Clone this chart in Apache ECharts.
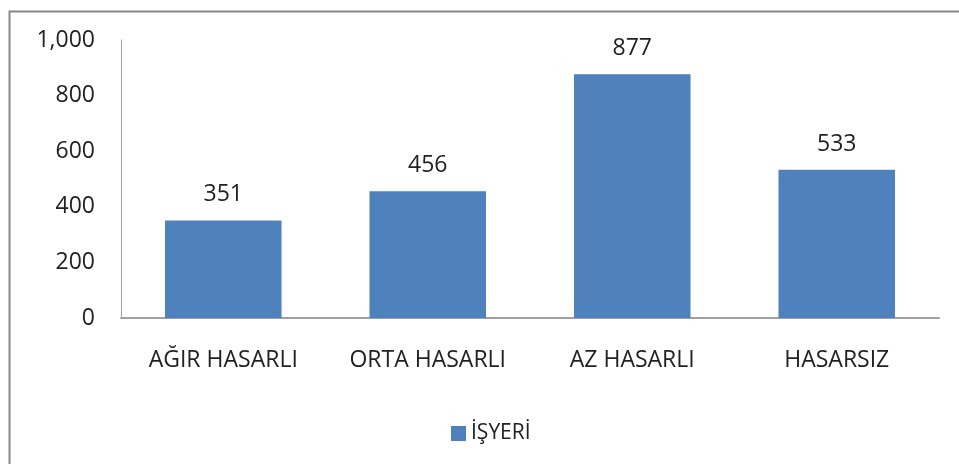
<!DOCTYPE html>
<html><head><meta charset="utf-8">
<script src="https://cdn.jsdelivr.net/npm/echarts@6/dist/echarts.min.js"></script>
<style>html,body{margin:0;padding:0;background:#fff}#c{width:959px;height:464px}</style>
</head><body><div id="c"></div>
<script>
const categories = ['AĞIR HASARLI', 'ORTA HASARLI', 'AZ HASARLI', 'HASARSIZ'];
const seriesName = 'İŞYERİ';
const values = [351, 456, 877, 533];
const yTicks = [0, 200, 400, 600, 800, 1000];

const font = '"Open Sans", sans-serif';
const fs = 23;
const chart = echarts.init(document.getElementById('c'));
chart.setOption({
  animation: false,
  backgroundColor: '#fff',
  graphic: [{
    type: 'rect', left: 7, top: 9, shape: { width: 980, height: 480 },
    style: { fill: 'none', stroke: '#888', lineWidth: 2 }
  }],
  grid: { left: 121, right: 20, top: 40, bottom: 146 },
  legend: {
    data: [seriesName], left: 446, top: 418, itemWidth: 15, itemHeight: 15, itemGap: 6,
    icon: 'rect',
    textStyle: { fontFamily: font, fontSize: 21, color: '#222' }
  },
  xAxis: {
    type: 'category', data: categories,
    axisLine: { lineStyle: { color: '#a0a0a0', width: 2 } },
    axisTick: { show: false },
    axisLabel: { fontFamily: font, fontSize: fs, color: '#222', margin: 31 }
  },
  yAxis: {
    type: 'value', min: yTicks[0], max: yTicks[yTicks.length - 1], interval: 200,
    axisLine: { show: true, lineStyle: { color: '#a0a0a0', width: 1 } },
    axisTick: { show: false },
    splitLine: { show: false },
    axisLabel: {
      fontFamily: font, fontSize: fs, color: '#222', margin: 26,
      formatter: v => v.toLocaleString('en-US')
    }
  },
  series: [{
    name: seriesName, type: 'bar', data: values, barWidth: '57%',
    itemStyle: { color: '#4F81BD' },
    label: { show: true, position: 'top', distance: 14, fontFamily: font, fontSize: fs, color: '#222' }
  }]
});
</script></body></html>
